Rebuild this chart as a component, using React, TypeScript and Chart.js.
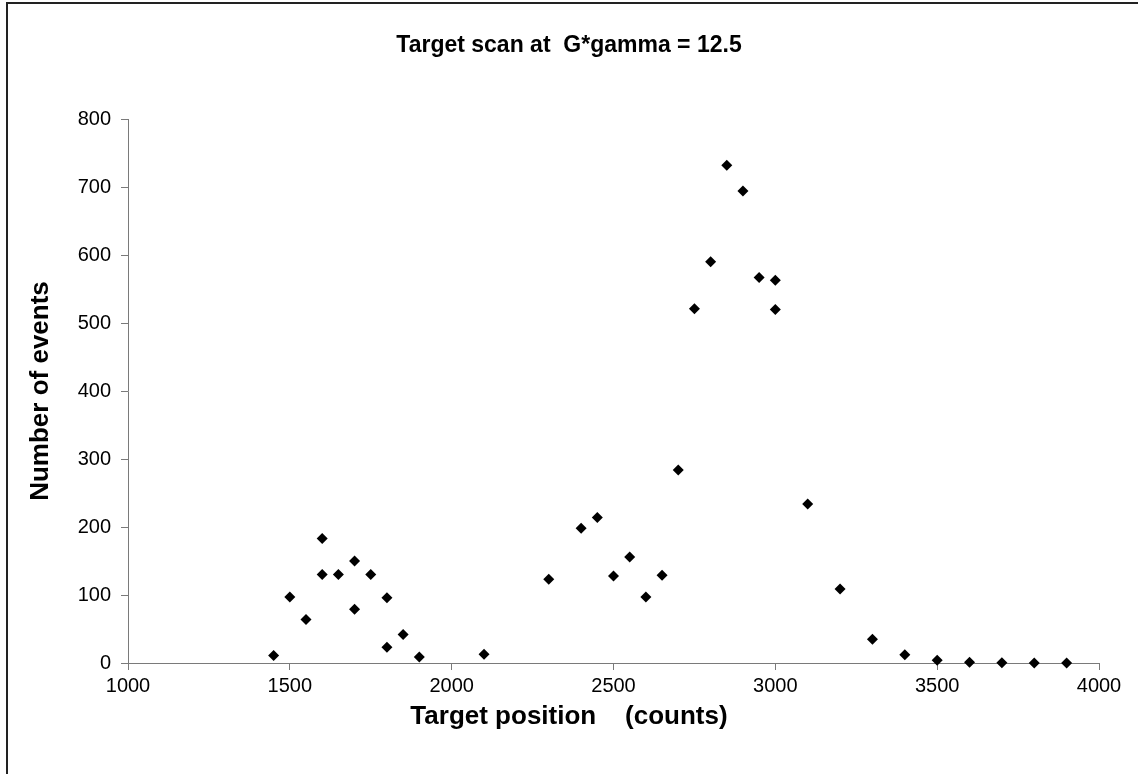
import React, { useEffect, useRef } from "react";
import { Chart, registerables } from "chart.js";

Chart.register(...registerables);

const positions = [
  1450, 1500, 1550, 1600, 1600, 1650, 1700, 1700, 1750, 1800, 1800, 1850, 1900,
  2100, 2300, 2400, 2450, 2500, 2550, 2600, 2650, 2700, 2750, 2800, 2850, 2900,
  2950, 3000, 3000, 3100, 3200, 3300, 3400, 3500, 3600, 3700, 3800, 3900,
];
const events = [
  11, 97, 64, 183, 130, 130, 150, 79, 130, 96, 23, 42, 9,
  13, 123, 198, 214, 128, 156, 97, 129, 284, 521, 590, 732, 694,
  567, 563, 520, 234, 109, 35, 12, 4, 1, 0.5, 0, 0,
];
const titleText = "Target scan at  G*gamma = 12.5";
const xTitle = "Target position    (counts)";
const yTitle = "Number of events";

const FONT = "Arial, 'Liberation Sans', sans-serif";
const AXIS_TITLE_SIZE = 26;
const TITLE_SIZE = 23;

const framePlugin = {
  id: "frame",
  beforeDraw(chart: any) {
    const ctx = chart.ctx;
    ctx.save();
    ctx.fillStyle = "#ffffff";
    ctx.fillRect(0, 0, chart.width, chart.height);
    ctx.strokeStyle = "#222222";
    ctx.lineWidth = 2;
    ctx.strokeRect(7, 3, chart.width + 20, chart.height + 20);
    ctx.restore();
  },
};

export default function App() {
  const ref = useRef<HTMLCanvasElement | null>(null);
  useEffect(() => {
    if (!ref.current) return;
    const data = positions.map((x, i) => ({ x, y: events[i] }));
    const lh = AXIS_TITLE_SIZE * 1.2;
    const tlh = TITLE_SIZE * 1.2;
    const chart = new Chart(ref.current, {
      type: "scatter",
      data: {
        datasets: [
          {
            data,
            pointStyle: "rectRot",
            pointRadius: 5.5,
            backgroundColor: "#000000",
            borderColor: "#000000",
            borderWidth: 0,
            clip: false,
          } as any,
        ],
      },
      options: {
        animation: false,
        responsive: false,
        maintainAspectRatio: false,
        layout: { padding: { left: 39, right: 39, top: 0, bottom: 0 } },
        plugins: {
          legend: { display: false },
          tooltip: { enabled: false },
          title: {
            display: true,
            text: titleText,
            color: "#000000",
            font: { family: FONT, size: TITLE_SIZE, weight: "bold" },
            padding: { top: 46 - tlh / 2, bottom: 119 - 46 - tlh / 2 },
          },
          subtitle: {
            display: true,
            position: "bottom",
            text: xTitle,
            color: "#000000",
            font: { family: FONT, size: AXIS_TITLE_SIZE, weight: "bold" },
            padding: { top: 0, bottom: 774 - 717 - lh / 2 },
          },
        },
        scales: {
          x: {
            type: "linear",
            min: 1000,
            max: 4000,
            afterFit(scale: any) {
              scale.height = 774 - 663 - (774 - 717 - lh / 2) - lh;
            },
            ticks: {
              stepSize: 500,
              color: "#000000",
              font: { family: FONT, size: 20 },
              padding: 4,
              maxRotation: 0,
              callback: (v: any) => String(v),
            },
            grid: {
              display: true,
              drawOnChartArea: false,
              drawTicks: true,
              tickLength: 7,
              color: "#7a7a7a",
            },
            border: { display: true, color: "#7a7a7a", width: 1 },
          },
          y: {
            type: "linear",
            min: 0,
            max: 800,
            afterFit(scale: any) {
              scale.width = 128 - 39;
            },
            title: {
              display: true,
              text: yTitle,
              color: "#000000",
              font: { family: FONT, size: AXIS_TITLE_SIZE, weight: "bold" },
              padding: { top: 41 - 39 - lh / 2, bottom: 0 },
            },
            ticks: {
              stepSize: 100,
              color: "#000000",
              font: { family: FONT, size: 20 },
              padding: 10,
              callback: (v: any) => String(v),
            },
            grid: {
              display: true,
              drawOnChartArea: false,
              drawTicks: true,
              tickLength: 7,
              color: "#7a7a7a",
            },
            border: { display: true, color: "#7a7a7a", width: 1 },
          },
        },
      },
      plugins: [framePlugin],
    });
    return () => chart.destroy();
  }, []);
  return (
    <div style={{ position: "fixed", left: 0, top: 0, width: 1138, height: 774, background: "#fff" }}>
      <canvas ref={ref} width={1138} height={774} style={{ display: "block", width: 1138, height: 774 }} />
    </div>
  );
}
